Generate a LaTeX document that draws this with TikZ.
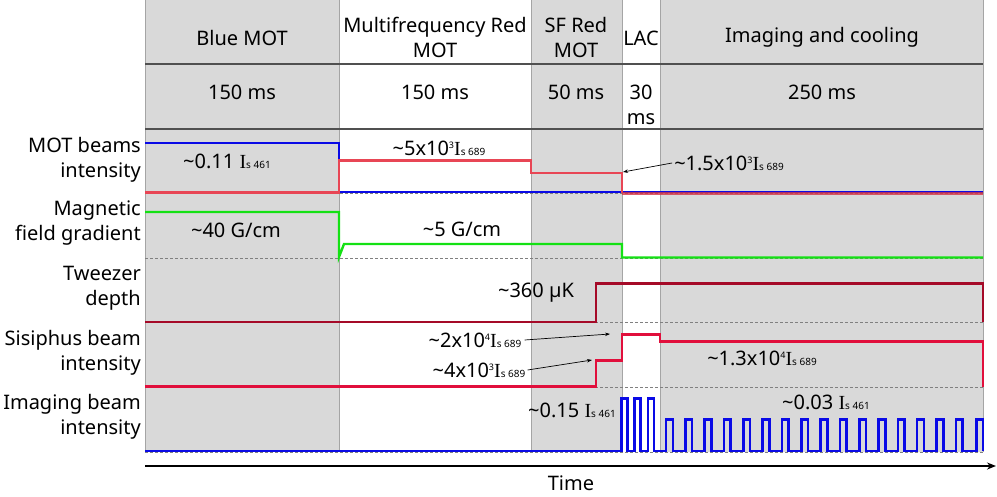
\documentclass[tikz,border=0pt]{standalone}
\usepackage{fontspec}
\setmainfont{Noto Sans}
\newfontfamily\serifI{Liberation Serif}
\usetikzlibrary{arrows.meta}
\definecolor{bluesig}{RGB}{10,10,230}
\definecolor{motred}{RGB}{232,70,85}
\definecolor{sisred}{RGB}{225,15,60}
\definecolor{twred}{RGB}{165,10,40}
\definecolor{greensig}{RGB}{20,225,20}
\definecolor{colfill}{RGB}{217,217,217}
\definecolor{colline}{RGB}{165,165,165}
\definecolor{sepline}{RGB}{80,80,80}
\newcommand\Isat[1]{{\serifI I}{\fontsize{10}{10}\selectfont s #1}}
\newcommand\sexp[1]{\raisebox{7pt}{\fontsize{9}{9}\selectfont #1}}
\tikzset{
  txt/.style={font=\fontsize{20}{25}\selectfont, inner sep=0pt, align=center},
  rowlbl/.style={font=\fontsize{20}{25}\selectfont, inner sep=0pt, align=right, anchor=east},
  gfill/.style={fill=colfill, draw=none},
  vline/.style={draw=colline, line width=0.8pt},
  hsep/.style={draw=sepline, line width=1.4pt},
  base/.style={draw=gray, line width=0.9pt, dash pattern=on 3pt off 2pt},
  sig/.style={line width=2.4pt, line join=miter},
  annarrow/.style={draw=black, line width=0.7pt, -{Stealth[length=5pt,width=3.5pt]}}
}
\begin{document}
\begin{tikzpicture}[x=1pt,y=-1pt]
\useasboundingbox (0,0) rectangle (997,496);
% column fills
\path[gfill] (145,0) rectangle (339,452);
\path[gfill] (531,0) rectangle (622,452);
\path[gfill] (660,0) rectangle (983,452);
% column lines
\foreach \x in {145,339,531,622,660,983} \draw[vline] (\x,0) -- (\x,452);
% header separators
\draw[hsep] (145,64) -- (983,64);
\draw[hsep] (145,129) -- (983,129);
% dashed baselines
\foreach \y in {193,258,322,387,452} \draw[base] (145,\y) -- (983,\y);
% MOT beams
\draw[sig, bluesig] (145,143) -- (339,143) -- (339,192) -- (983,192);
\draw[sig, motred] (145,192.5) -- (339,192.5) -- (339,160.5) -- (531,160.5) -- (531,173) -- (622,173) -- (622,193);
\draw[sig, motred!70!twred, opacity=0.8] (622,193.5) -- (983,193.5);
% Magnetic gradient
\draw[sig, greensig] (145,212) -- (339,212) -- (339,257) -- (344,244) -- (622,244) -- (622,257.5) -- (983,257.5);
% Tweezer
\draw[sig, twred] (145,322) -- (596,322) -- (596,283.5) -- (983,283.5) -- (983,322);
% Sisiphus
\draw[sig, sisred] (145,386.5) -- (596,386.5) -- (596,360.5) -- (622,360.5) -- (622,334.5) -- (660,334.5) -- (660,341.5) -- (983,341.5) -- (983,386.5);
% Imaging
\draw[sig, bluesig] (145,451) -- (621.5,451)
  -- (621.5,398.5) -- (627.5,398.5) -- (627.5,451)
  -- (634.3,451) -- (634.3,398.5) -- (640.5,398.5) -- (640.5,451)
  -- (647.7,451) -- (647.7,398.5) -- (653.8,398.5) -- (653.8,451)
  -- (666,451)
  \foreach \k in {0,...,15} { -- ({666+19.33*\k},451) -- ({666+19.33*\k},419.5) -- ({672.7+19.33*\k},419.5) -- ({672.7+19.33*\k},451) }
  -- (976.3,451) -- (976.3,419.5) -- (982.7,419.5) -- (982.7,451);
% Time axis
\coordinate (tstart) at (145,466);
\coordinate (tend) at (996,466);
\draw[line width=1.5pt, -{Stealth[length=9pt,width=7pt]}] (tstart) -- (tend);
\node[txt] (time) at (571,483) {Time};
% headers
\node[txt] (h1) at (242,38) {Blue MOT};
\node[txt] (h2) at (435,37.5) {Multifrequency Red\\MOT};
\node[txt] (h3) at (576,37.5) {SF Red\\MOT};
\node[txt] (h4) at (641,38) {LAC};
\node[txt] (h5) at (822,37) {Imaging and cooling};
\node[txt] (d1) at (242,92) {150 ms};
\node[txt] (d2) at (435,92) {150 ms};
\node[txt] (d3) at (576,92) {50 ms};
\node[txt] (d4) at (641,104.5) {30\\ms};
\node[txt] (d5) at (822,92) {250 ms};
% row labels
\node[rowlbl] (r1) at (141,160) {MOT beams\\intensity};
\node[rowlbl] (r2) at (141,223) {Magnetic\\field gradient};
\node[rowlbl] (r3) at (141,288) {Tweezer\\depth};
\node[rowlbl] (r4) at (141,352.5) {Sisiphus beam\\intensity};
\node[rowlbl] (r5) at (141,417) {Imaging beam\\intensity};
% annotations
\node[txt] (a011) at (227,161) {\textasciitilde0.11 \Isat{461}};
\node[txt] (a5e3) at (439,148) {\textasciitilde5x10\sexp{3}\Isat{689}};
\node[txt] (a15e3) at (729,163) {\textasciitilde1.5x10\sexp{3}\Isat{689}};
\coordinate (p15) at (623,172);
\draw[annarrow] ([xshift=-2pt]a15e3.west) -- (p15);
\node[txt] (a40) at (236,230) {\textasciitilde40 G/cm};
\node[txt] (a5g) at (462,229) {\textasciitilde5 G/cm};
\node[txt] (a360) at (536,293) {\textasciitilde360 µK};
\node[txt] (a2e4) at (475,340) {\textasciitilde2x10\sexp{4}\Isat{689}};
\coordinate (p2e4) at (610,334);
\draw[annarrow] ([xshift=3pt]a2e4.east) -- (p2e4);
\node[txt] (a4e3) at (479,370) {\textasciitilde4x10\sexp{3}\Isat{689}};
\coordinate (p4e3) at (592,360);
\draw[annarrow] ([xshift=2pt]a4e3.east) -- (p4e3);
\node[txt] (a13e4) at (762,358) {\textasciitilde1.3x10\sexp{4}\Isat{689}};
\node[txt] (a015) at (572,410) {\textasciitilde0.15 \Isat{461}};
\node[txt] (a003) at (826,402) {\textasciitilde0.03 \Isat{461}};
\end{tikzpicture}
\end{document}
